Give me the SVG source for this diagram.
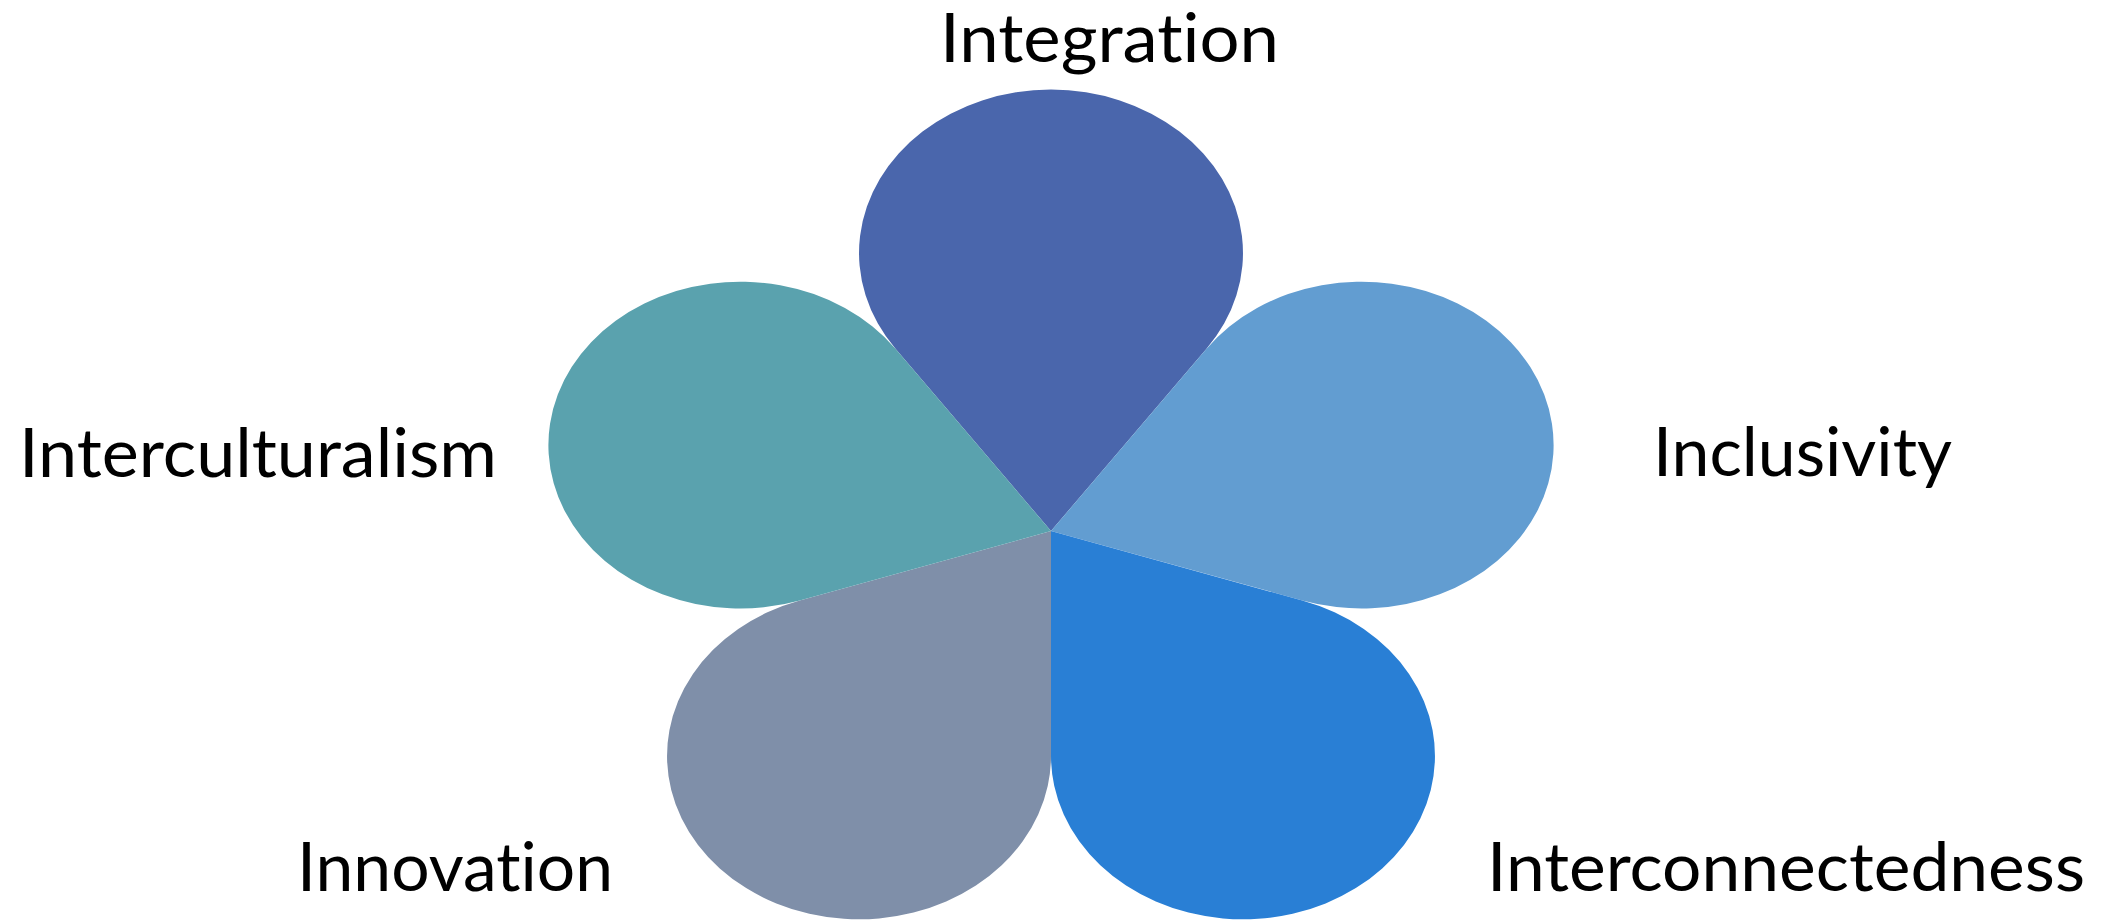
<svg xmlns="http://www.w3.org/2000/svg" xmlns:xlink="http://www.w3.org/1999/xlink" width="2106" height="920" viewBox="0 0 2106 920">
  <style>
    .lbl { font-family: Lato, "Open Sans", "Liberation Sans", sans-serif; font-size: 67px; fill: #000000; font-variant-ligatures: none; font-feature-settings: "liga" 0, "clig" 0, "dlig" 0; }
  </style>
  <defs>
    <path id="petal" d="M0,0 L-47.55,-65.45 A58.78,58.78 0 1 1 47.55,-65.45 Z"/>
  </defs>
  <rect x="0" y="0" width="2106" height="920" fill="#ffffff"/>
  <g id="connectors"></g>
  <g id="node-integration">
    <use xlink:href="#petal" href="#petal" fill="#4A66AC" transform="translate(1051,531) scale(3.266,2.78) rotate(0)"/>
    <text class="lbl" x="940" y="62" textLength="339" lengthAdjust="spacingAndGlyphs">Integration</text>
  </g>
  <g id="node-inclusivity">
    <use xlink:href="#petal" href="#petal" fill="#629DD1" transform="translate(1051,531) scale(3.266,2.78) rotate(72)"/>
    <text class="lbl" x="1653" y="476" textLength="299" lengthAdjust="spacingAndGlyphs">Inclusivity</text>
  </g>
  <g id="node-interconnectedness">
    <use xlink:href="#petal" href="#petal" fill="#297FD5" transform="translate(1051,531) scale(3.266,2.78) rotate(144)"/>
    <text class="lbl" x="1487" y="891" textLength="598" lengthAdjust="spacingAndGlyphs">Interconnectedness</text>
  </g>
  <g id="node-innovation">
    <use xlink:href="#petal" href="#petal" fill="#7F8FA9" transform="translate(1051,531) scale(3.266,2.78) rotate(216)"/>
    <text class="lbl" x="297" y="891" textLength="316" lengthAdjust="spacingAndGlyphs">Innovation</text>
  </g>
  <g id="node-interculturalism">
    <use xlink:href="#petal" href="#petal" fill="#5AA2AE" transform="translate(1051,531) scale(3.266,2.78) rotate(288)"/>
    <text class="lbl" x="19" y="477" textLength="478" lengthAdjust="spacingAndGlyphs">Interculturalism</text>
  </g>
</svg>
